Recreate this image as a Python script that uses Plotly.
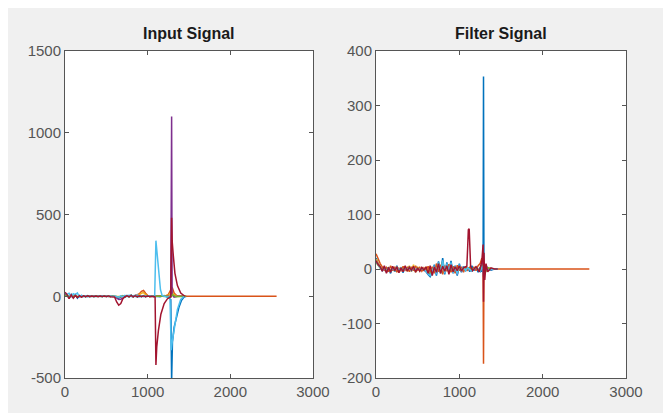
import plotly.graph_objects as go

# ---------------- data ----------------
# shared sample positions for the noisy part of every trace
GRID = [0, 25, 50, 75, 100, 125, 150, 175, 200, 225, 250, 275, 300, 325, 350, 375,
        400, 425, 450, 475, 500, 525, 550, 575, 600, 625, 650, 675, 700, 725, 750,
        775, 800, 825, 850, 875, 900, 925, 950, 975, 1000, 1025, 1050, 1075]

X_TICKS = [0, 1000, 2000, 3000]
X_TICK_TEXT = ["0", "1000", "2000", "3000"]
IN_Y_TICKS = [-500, 0, 500, 1000, 1500]
IN_Y_TICK_TEXT = ["-500", "0", "500", "1000", "1500"]
F_Y_TICKS = [-200, -100, 0, 100, 200, 300, 400]
F_Y_TICK_TEXT = ["-200", "-100", "0", "100", "200", "300", "400"]

# ----- Input Signal (left) -----
in_blue_noise = [15, 8, -10, 12, -6, 10, -12, 5, -4, 3, -2, 4, -3, 2, -2, 3, -1, 2, -3, 1, -2, 2,
                 -1, 3, -2, -8, -12, -5, 4, -6, 5, -3, 8, -4, 6, -5, 3, -2, 4, -3, 2, -1, 2, -3]
in_blue_tx = [1100, 1150, 1200, 1250, 1280, 1290, 1300, 1320, 1350, 1380, 1410, 1440, 1470]
in_blue_ty = [0, -3, 4, -8, -20, -520, -280, -190, -120, -65, -25, -5, 0]

in_orange_noise = [10, 4, -5, 6, -3, 2, -4, 3, -2, 2, -1, 2, -2, 1, -1, 2, -1, 1, -2, 1, -1, 1,
                   -1, 2, -1, -3, -5, -2, 2, -3, 3, -2, 4, -2, 3, 6, 15, 30, 35, 18, 4, -2, 2, -1]
in_orange_tx = [1100, 1150, 1200, 1250, 1280, 1300, 1320, 1350, 1400, 2560]
in_orange_ty = [0, 3, -2, 10, 40, 50, 20, 5, 0, 0]

in_yellow_noise = [8, 3, -4, 5, -2, 3, -3, 2, -1, 1, -1, 1, -1, 1, -1, 1, -1, 1, -1, 1, -1, 1,
                   -1, 1, -1, -2, -3, -1, 1, -2, 2, -1, 3, -1, 2, 4, 10, 18, 22, 10, 2, -1, 1, 0]
in_yellow_tx = [1100, 1200, 1260, 1290, 1310, 1340, 1400, 1460]
in_yellow_ty = [0, 2, 8, 30, 15, 4, 0, 0]

in_purple_noise = [12, 5, -8, 6, -4, 3, -5, 2, -2, 1, -1, 2, -1, 1, -1, 1, -1, 1, -1, 1, -1, 1,
                   -1, 1, -2, -10, -20, -18, -8, -2, 2, -1, 3, -2, 2, -2, 2, -1, 2, -1, 1, -1, 1, 0]
in_purple_tx = [1100, 1200, 1280, 1290, 1296, 1320, 1360, 1460]
in_purple_ty = [0, 2, 0, 1100, 10, -5, 0, 0]

in_green_noise = [6, 2, -4, 4, -2, 2, -3, 1, -1, 1, -1, 1, -1, 1, -1, 1, -1, 1, -1, 1, -1, 1,
                  -1, 1, -1, -2, -4, -2, 1, -3, 2, -2, 5, -2, 3, -2, 2, -1, 3, -2, 1, -1, 1, 0]
in_green_tx = [1100, 1200, 1280, 1300, 1340, 1400, 1460]
in_green_ty = [0, 2, -5, 10, -3, 0, 0]

in_cyan_noise = [20, 12, 18, -6, 15, 10, 20, -5, 6, -3, 2, -4, 3, -2, 1, -3, 2, -1, 3, -2, 1, -1,
                 2, -2, 1, -4, -6, 2, -3, 5, -2, 6, -3, 4, -2, 8, -4, 3, -2, 2, -1, 3, -2, 0]
in_cyan_tx = [1085, 1100, 1115, 1135, 1155, 1175, 1220, 1270, 1285, 1300, 1330, 1360, 1400, 1440]
in_cyan_ty = [0, 340, 250, 130, 40, 5, -3, -5, -330, -270, -170, -80, -20, 0]

in_red_noise = [25, 10, -15, 8, -12, 5, -8, 3, -5, 2, -3, 2, -2, 1, -2, 2, -1, 1, -2, 1, -1, 2,
                -3, -2, -5, -35, -55, -45, -15, -3, 2, -3, 4, -2, 3, -2, 2, -1, 2, -3, 1, -2, 0, -2]
in_red_tx = [1090, 1100, 1110, 1130, 1160, 1200, 1240, 1280, 1290, 1296, 1310, 1330, 1360, 1400, 1450]
in_red_ty = [-5, -420, -310, -210, -110, -45, -15, -3, 480, 340, 250, 140, 65, 20, 0]

# ----- Filter Signal (right) -----
f_blue_noise = [20, 10, 5, -3, 4, -6, 2, -8, 3, -5, 6, -4, 2, -7, 4, -3, 5, -2, 3, -4, 2, -3,
                1, -2, -5, -10, -14, -6, 8, -12, 14, -8, 20, -10, 12, -6, 15, -8, 6, -12, 10, -6, 5, -4]
f_blue_tx = [1100, 1125, 1150, 1175, 1200, 1225, 1250, 1270, 1285, 1290, 1295, 1310, 1340, 1380, 1420, 1460]
f_blue_ty = [3, -5, 6, -3, 4, -6, 3, -5, 0, 353, 0, -5, 3, -2, 0, 0]

f_orange_noise = [28, 18, 10, 4, -2, 3, -5, 6, -3, 4, -6, 2, -4, 5, -2, 3, -5, 4, -3, 6, -2, 3,
                  -4, 2, -3, 5, -6, 4, -8, 10, -5, 8, -10, 6, -4, 9, -6, 5, -8, 7, -3, 4, -6, 5]
f_orange_tx = [1100, 1125, 1150, 1175, 1200, 1225, 1250, 1270, 1285, 1290, 1295, 1310, 1340, 1380, 2560]
f_orange_ty = [-2, 3, -5, 4, -3, 6, 10, 20, 5, -174, 0, 8, -3, 0, 0]

f_yellow_noise = [18, 10, 4, -2, 3, -4, 2, -5, 3, -3, 4, -6, 2, -3, 5, -4, 6, -5, 8, -6, 4, -3,
                  2, -2, 3, -4, 2, -5, 3, -4, 5, -3, 4, -5, 3, -2, 4, -3, 2, -4, 3, -2, 2, -1]
f_yellow_tx = [1100, 1150, 1200, 1250, 1280, 1300, 1340, 1400, 1460]
f_yellow_ty = [2, -3, 3, -4, 10, -8, 2, 0, 0]

f_purple_noise = [15, 8, 3, -3, 2, -5, 3, -4, 2, -2, 3, -4, 1, -3, 2, -2, 3, -3, 2, -2, 1, -2,
                  2, -1, -4, -8, -10, -4, 5, -8, 8, -6, 12, -6, 8, -5, 10, -6, 4, -10, 6, -4, 3, -2]
f_purple_tx = [1100, 1150, 1200, 1250, 1280, 1292, 1305, 1340, 1400, 1460]
f_purple_ty = [2, -3, 2, -4, 12, -15, 6, -2, 0, 0]

f_green_noise = [12, 6, 2, -2, 3, -3, 2, -4, 2, -2, 3, -3, 1, -2, 2, -2, 2, -2, 2, -3, 1, -2,
                 1, -1, -3, -6, -8, -3, 4, -6, 10, -5, 14, -6, 6, -4, 8, -5, 3, -8, 5, -3, 2, -2]
f_green_tx = [1100, 1150, 1200, 1250, 1285, 1300, 1340, 1400, 1460]
f_green_ty = [2, -2, 2, -3, 8, -10, 2, 0, 0]

f_cyan_noise = [14, 7, 2, -3, 2, -4, 3, -5, 2, -3, 4, -3, 2, -4, 3, -2, 2, -3, 3, -2, 1, -2,
                1, -1, -4, -9, -12, -5, 6, -10, 12, -7, 16, -8, 10, -5, 12, -7, 5, -10, 8, -5, 4, -3]
f_cyan_tx = [1100, 1150, 1200, 1250, 1280, 1292, 1310, 1340, 1400, 1460]
f_cyan_ty = [2, -4, 3, -5, 6, -12, 4, -2, 0, 0]

f_red_noise = [15, 8, 4, -4, 6, -8, 3, -6, 5, -3, 4, -7, 2, -5, 6, -4, 3, -2, 5, -6, 2, -4,
               3, -2, 4, -8, 6, -12, 4, -6, 10, -8, 5, -4, 6, -10, 8, -5, 4, -3, 6, -4, 2, 3]
f_red_tx = [1090, 1100, 1108, 1118, 1126, 1135, 1160, 1200, 1240, 1270, 1285, 1290, 1295, 1305,
            1320, 1340, 1380, 1420, 1460]
f_red_ty = [5, 40, 72, 74, 30, 5, -3, 4, -5, 15, 45, -60, 30, -20, 10, -5, 2, 0, 0]

COLORS = {"blue": "#0072BD", "orange": "#D95319", "yellow": "#EDB120", "purple": "#7E2F8E",
          "green": "#77AC30", "cyan": "#4DBEEE", "red": "#A2142F"}

left_series = [
    ("blue", in_blue_noise, in_blue_tx, in_blue_ty),
    ("orange", in_orange_noise, in_orange_tx, in_orange_ty),
    ("yellow", in_yellow_noise, in_yellow_tx, in_yellow_ty),
    ("purple", in_purple_noise, in_purple_tx, in_purple_ty),
    ("green", in_green_noise, in_green_tx, in_green_ty),
    ("cyan", in_cyan_noise, in_cyan_tx, in_cyan_ty),
    ("red", in_red_noise, in_red_tx, in_red_ty),
]
right_series = [
    ("blue", f_blue_noise, f_blue_tx, f_blue_ty),
    ("orange", f_orange_noise, f_orange_tx, f_orange_ty),
    ("yellow", f_yellow_noise, f_yellow_tx, f_yellow_ty),
    ("purple", f_purple_noise, f_purple_tx, f_purple_ty),
    ("green", f_green_noise, f_green_tx, f_green_ty),
    ("cyan", f_cyan_noise, f_cyan_tx, f_cyan_ty),
    ("red", f_red_noise, f_red_tx, f_red_ty),
]

# ---------------- figure ----------------
fig = go.Figure()

for name, noise, tx, ty in left_series:
    fig.add_trace(go.Scatter(x=GRID + tx, y=noise + ty, mode="lines",
                             line=dict(color=COLORS[name], width=1.5),
                             xaxis="x", yaxis="y", showlegend=False))
for name, noise, tx, ty in right_series:
    fig.add_trace(go.Scatter(x=GRID + tx, y=noise + ty, mode="lines",
                             line=dict(color=COLORS[name], width=1.5),
                             xaxis="x2", yaxis="y2", showlegend=False))

FONT = "Liberation Sans, Arial, sans-serif"
axis_common = dict(showline=True, linecolor="#555555", linewidth=1, mirror="ticks",
                   ticks="inside", ticklen=4, tickcolor="#555555", showgrid=False,
                   zeroline=False, automargin=False,
                   tickfont=dict(family=FONT, size=15, color="#555555"))

# the page body adds an 8px margin, so the figure is 8px smaller than the window
fig.update_layout(
    width=663, height=405,
    margin=dict(l=57, r=45, t=43, b=35, autoexpand=False),
    paper_bgcolor="#f0f0f0", plot_bgcolor="#ffffff",
    xaxis=dict(domain=[0, 0.442], range=[0, 3000], tickvals=X_TICKS, ticktext=X_TICK_TEXT,
               anchor="y", **axis_common),
    yaxis=dict(domain=[0, 1], range=[-500, 1500], tickvals=IN_Y_TICKS, ticktext=IN_Y_TICK_TEXT,
               anchor="x", **axis_common),
    xaxis2=dict(domain=[0.5544, 1], range=[0, 3000], tickvals=X_TICKS, ticktext=X_TICK_TEXT,
                anchor="y2", **axis_common),
    yaxis2=dict(domain=[0, 1], range=[-200, 400], tickvals=F_Y_TICKS, ticktext=F_Y_TICK_TEXT,
                anchor="x2", **axis_common),
    annotations=[
        dict(text="<b>Input Signal</b>", xref="paper", yref="paper", x=0.221, y=1,
             xanchor="center", yanchor="bottom", yshift=7, showarrow=False,
             font=dict(family=FONT, size=16, color="#1a1a1a")),
        dict(text="<b>Filter Signal</b>", xref="paper", yref="paper", x=0.7772, y=1,
             xanchor="center", yanchor="bottom", yshift=7, showarrow=False,
             font=dict(family=FONT, size=16, color="#1a1a1a")),
    ],
)

fig.write_html("out.html")
